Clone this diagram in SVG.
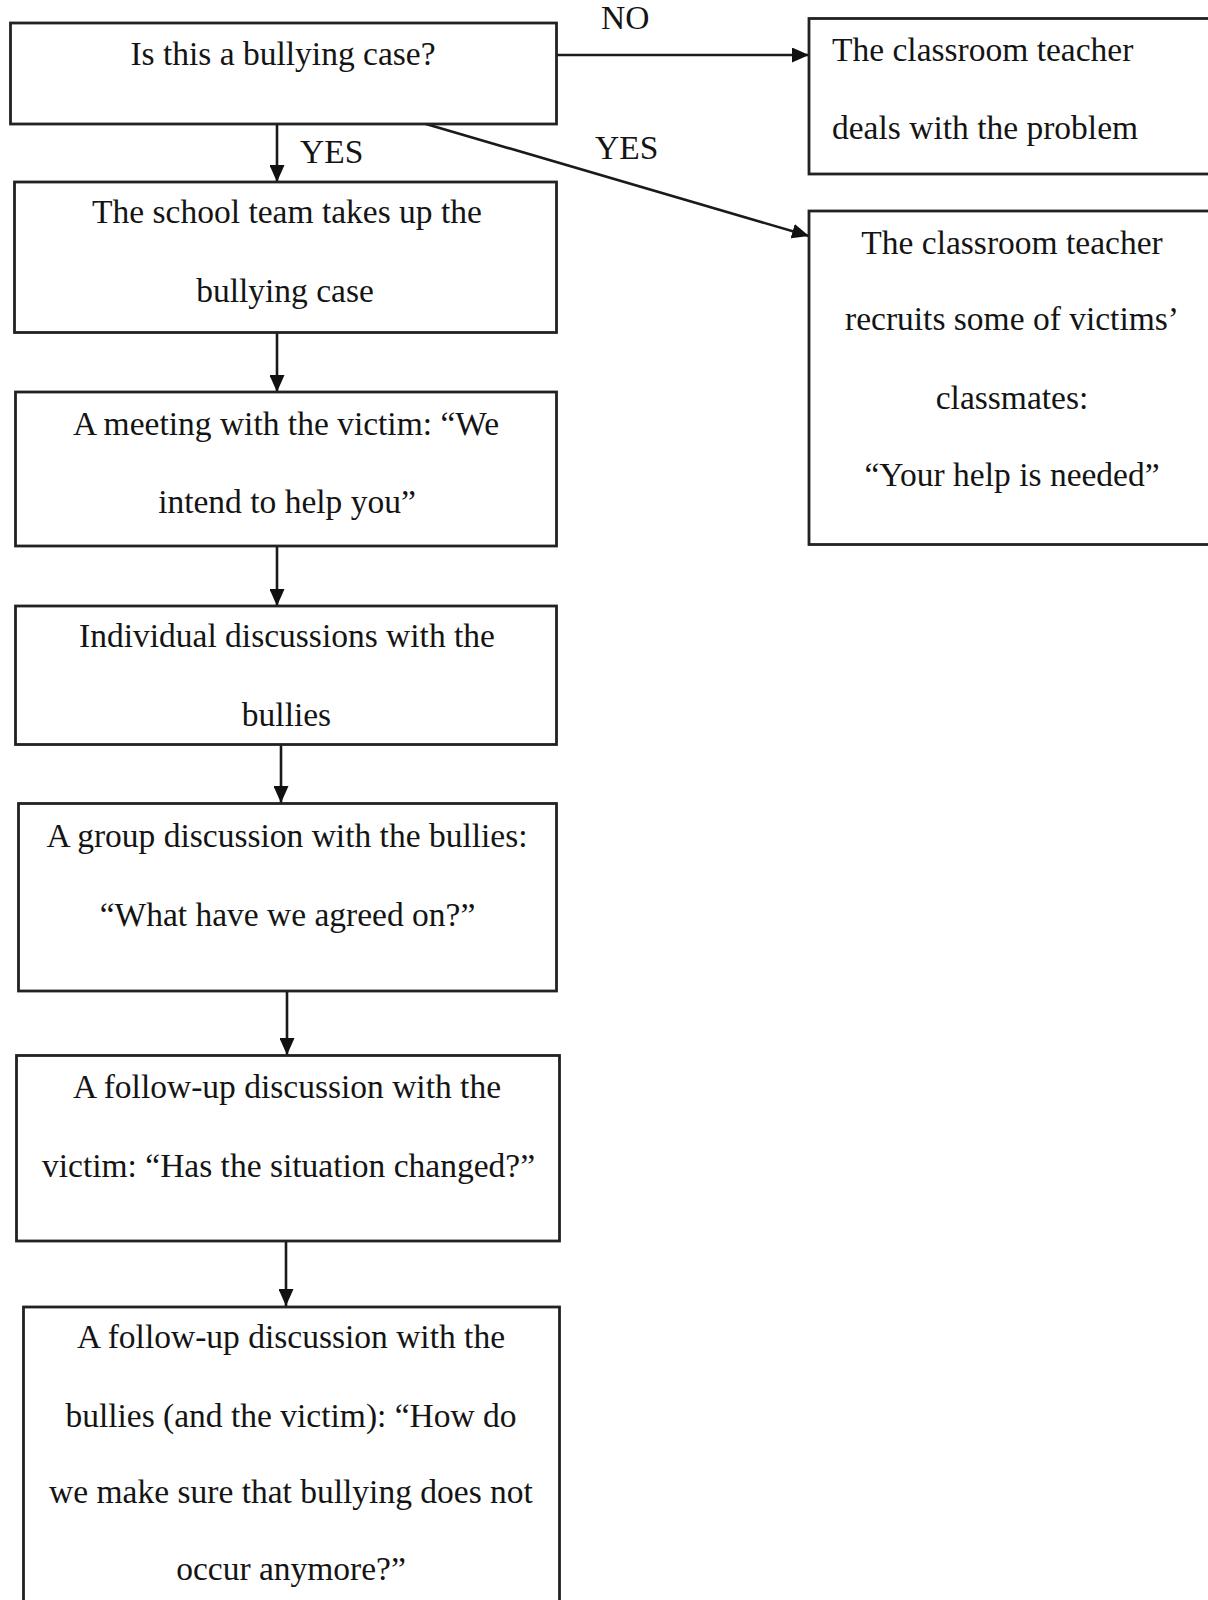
<svg xmlns="http://www.w3.org/2000/svg" width="1208" height="1600" viewBox="0 0 1208 1600">
<style>
  .box { fill: #ffffff; stroke: #222222; stroke-width: 2.8; }
  .t { font-family: "Liberation Serif", "Times New Roman", serif; font-size: 33.5px; fill: #141414; }
  .c { text-anchor: middle; }
  .conn { stroke: #1a1a1a; stroke-width: 2.6; fill: none; marker-end: url(#arrow); }
</style>
<defs>
  <marker id="arrow" viewBox="0 0 17 15" refX="17" refY="7.5" markerWidth="17" markerHeight="15" markerUnits="userSpaceOnUse" orient="auto">
    <path d="M0,0 L17,7.5 L0,15 Z" fill="#111111"/>
  </marker>
</defs>
<rect width="1208" height="1600" fill="#ffffff"/>

<g id="connectors">
  <line class="conn" x1="277" y1="124" x2="277" y2="182"/>
  <line class="conn" x1="556" y1="55" x2="809" y2="55"/>
  <line class="conn" x1="426" y1="124" x2="809" y2="236"/>
  <line class="conn" x1="277" y1="332" x2="277" y2="392"/>
  <line class="conn" x1="277" y1="546" x2="277" y2="606"/>
  <line class="conn" x1="281" y1="744" x2="281" y2="803"/>
  <line class="conn" x1="287" y1="991" x2="287" y2="1055"/>
  <line class="conn" x1="286" y1="1241" x2="286" y2="1306"/>
  <text class="t" x="601" y="29">NO</text>
  <text class="t" x="300" y="163">YES</text>
  <text class="t" x="595" y="159">YES</text>
</g>

<g id="q1">
  <rect class="box" x="10.5" y="23" width="546" height="101"/>
  <text class="t c" x="283" y="65">Is this a bullying case?</text>
</g>

<g id="teacher-deals">
  <rect class="box" x="809" y="18.5" width="410" height="155.5"/>
  <text class="t" x="832" y="61">The classroom teacher</text>
  <text class="t" x="832" y="139">deals with the problem</text>
</g>

<g id="teacher-recruits">
  <rect class="box" x="809" y="211" width="410" height="333.5"/>
  <text class="t c" x="1012" y="254">The classroom teacher</text>
  <text class="t c" x="1012" y="330">recruits some of victims’</text>
  <text class="t c" x="1012" y="409">classmates:</text>
  <text class="t c" x="1012" y="486">“Your help is needed”</text>
</g>

<g id="school-team">
  <rect class="box" x="14.5" y="182" width="542" height="150.5"/>
  <text class="t c" x="287" y="223">The school team takes up the</text>
  <text class="t c" x="285" y="302">bullying case</text>
</g>

<g id="meeting-victim">
  <rect class="box" x="15.5" y="392" width="541" height="154"/>
  <text class="t c" x="286" y="435">A meeting with the victim: “We</text>
  <text class="t c" x="287" y="513">intend to help you”</text>
</g>

<g id="individual">
  <rect class="box" x="15.5" y="606" width="541" height="138.5"/>
  <text class="t c" x="287" y="647">Individual discussions with the</text>
  <text class="t c" x="286.5" y="726">bullies</text>
</g>

<g id="group">
  <rect class="box" x="18.5" y="803.5" width="538" height="187.5"/>
  <text class="t c" x="287" y="847">A group discussion with the bullies:</text>
  <text class="t c" x="287.5" y="926">“What have we agreed on?”</text>
</g>

<g id="followup-victim">
  <rect class="box" x="16.5" y="1055.5" width="543" height="185.5"/>
  <text class="t c" x="287" y="1098">A follow-up discussion with the</text>
  <text class="t c" x="288.5" y="1177">victim: “Has the situation changed?”</text>
</g>

<g id="followup-bullies">
  <rect class="box" x="23.5" y="1307" width="536" height="320"/>
  <text class="t c" x="291" y="1348">A follow-up discussion with the</text>
  <text class="t c" x="291" y="1427">bullies (and the victim): “How do</text>
  <text class="t c" x="291" y="1503">we make sure that bullying does not</text>
  <text class="t c" x="291" y="1580">occur anymore?”</text>
</g>
</svg>
